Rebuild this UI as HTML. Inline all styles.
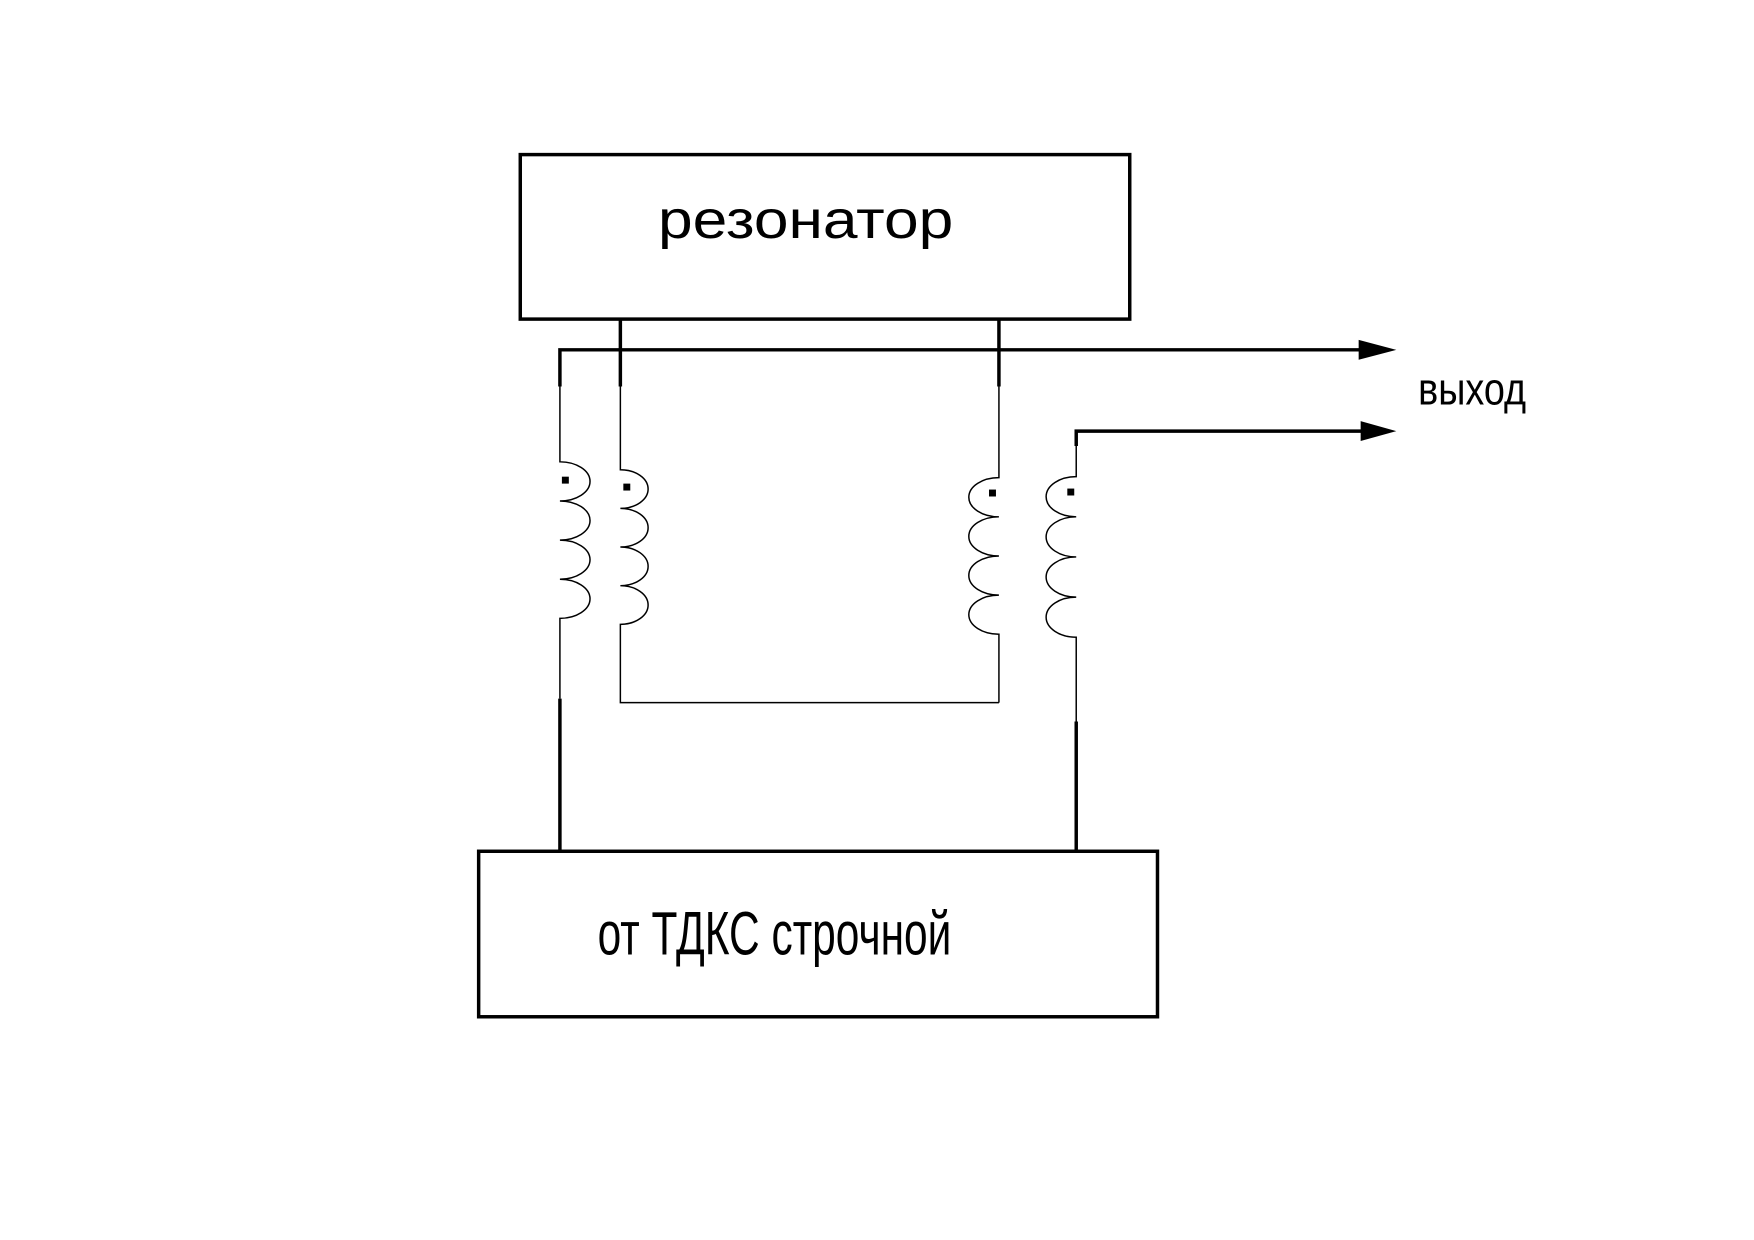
<!DOCTYPE html>
<html><head><meta charset="utf-8"><style>html,body{margin:0;padding:0;background:#fff}svg{display:block}</style></head>
<body>
<svg width="1754" height="1240" viewBox="0 0 1754 1240" xmlns="http://www.w3.org/2000/svg">
<g transform="scale(0.991)">
<g fill="none" stroke="#000">
<rect x="525" y="156" width="615" height="166" stroke-width="3.5"/>
<rect x="483" y="859" width="685" height="167" stroke-width="3.5"/>
<g stroke-width="3.5">
<path d="M626 322 V390"/>
<path d="M1008 322 V390"/>
<path d="M565 390 V353 H1380"/>
<path d="M1086 450 V435 H1385"/>
<path d="M565 705 V859"/>
<path d="M1086 728 V859"/>
</g>
<g stroke-width="1.5">
<path d="M565 390 V466 a30 19.5 0 0 1 0 39.5 a30 19.5 0 0 1 0 39.5 a30 19.5 0 0 1 0 39.5 a30 19.5 0 0 1 0 39.5 V705"/>
<path d="M626 390 V474 a28 19.5 0 0 1 0 39 a28 19.5 0 0 1 0 39 a28 19.5 0 0 1 0 39 a28 19.5 0 0 1 0 39 V709 H1008"/>
<path d="M1008 390 V482 a30 19.5 0 0 0 0 39.5 a30 19.5 0 0 0 0 39.5 a30 19.5 0 0 0 0 39.5 a30 19.5 0 0 0 0 39.5 V709"/>
<path d="M1086 435 V481 a30 20 0 0 0 0 40.5 a30 20 0 0 0 0 40.5 a30 20 0 0 0 0 40.5 a30 20 0 0 0 0 40.5 V728"/>
</g>
</g>
<g fill="#000">
<polygon points="1371,343 1409,353 1371,363"/>
<polygon points="1373,425 1409,435 1373,445"/>
<rect x="567" y="481" width="7" height="7"/>
<rect x="629" y="488" width="7" height="7"/>
<rect x="998" y="494" width="7" height="7"/>
<rect x="1077" y="493" width="7" height="7"/>
</g>
<g font-family="'Liberation Sans', 'DejaVu Sans', sans-serif" fill="#000">
<text x="664" y="240" font-size="54" textLength="298" lengthAdjust="spacingAndGlyphs">резонатор</text>
<text x="1431" y="408" font-size="46" font-weight="bold" textLength="109" lengthAdjust="spacingAndGlyphs" style="font-weight:normal">выход</text>
<text x="603" y="963" font-size="62" textLength="357" lengthAdjust="spacingAndGlyphs">от ТДКС строчной</text>
</g>
</g>
</svg>
</body></html>
